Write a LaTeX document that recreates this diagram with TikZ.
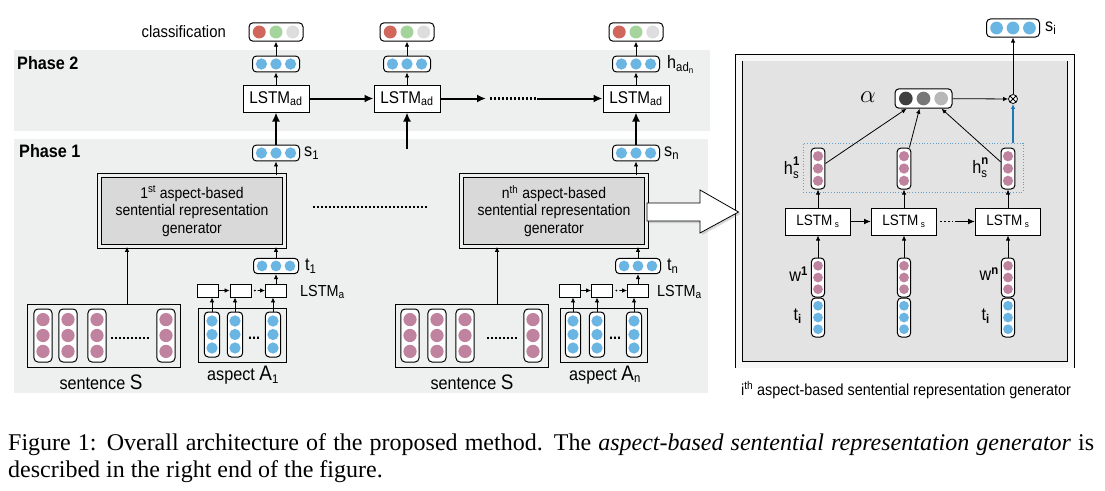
\documentclass[tikz,border=0pt]{standalone}
\usepackage{amsmath}
\usepackage{fontspec}
\setmainfont[FakeStretch=0.9]{Liberation Sans}
\newfontfamily\capfont{Liberation Serif}
\usetikzlibrary{arrows.meta,calc,positioning,shadows}

\definecolor{band}{RGB}{238,239,239}
\definecolor{panelgray}{RGB}{227,227,227}
\definecolor{vblue}{RGB}{107,181,227}
\definecolor{vpink}{RGB}{192,131,159}
\definecolor{vred}{RGB}{209,102,92}
\definecolor{vgreen}{RGB}{164,212,155}
\definecolor{vgray}{RGB}{221,221,221}
\definecolor{adark}{RGB}{63,63,63}
\definecolor{amid}{RGB}{119,119,119}
\definecolor{alight}{RGB}{184,184,184}
\definecolor{attblue}{RGB}{31,120,180}

\newcommand{\fsz}[1]{\fontsize{#1}{#1}\selectfont}

\tikzset{%
    arr/.style = {-{Latex[length=5pt,width=4.5pt]}, line width=0.8pt},
    midarr/.style = {-{Latex[length=7pt,width=6pt]}, line width=1.5pt},
    bigarr/.style = {-{Latex[length=9pt,width=8pt]}, line width=2pt},
    vbox/.style = {draw, line width=1pt, rounded corners=4pt, fill=white, inner sep=0pt},
    dot/.style = {circle, inner sep=0pt, minimum size=#1},
    plainbox/.style = {draw, line width=0.9pt, inner sep=0pt},
    lstm/.style = {draw, line width=1pt, fill=white, inner sep=0pt},
    cell/.style = {draw, line width=0.9pt, fill=white, minimum width=21pt, minimum height=13pt, inner sep=0pt},
    genbox/.style = {draw, line width=0.8pt, double=band, double distance=3pt, fill=black!15,
        minimum width=185pt, minimum height=71pt, align=center, inner sep=0pt,
        font=\fontsize{15.5}{17.5}\selectfont,
        drop shadow={opacity=0.3, shadow xshift=2pt, shadow yshift=-2pt}},
    panelbox/.style = {draw, line width=0.9pt, double=black!3, double distance=6pt, fill=panelgray,
        minimum width=332pt, minimum height=307pt, inner sep=0pt,
        drop shadow={opacity=0.3, shadow xshift=2pt, shadow yshift=-2pt}},
    lab/.style = {inner sep=0pt, font=\fsz{18}},
    phase/.style = {inner sep=0pt, font=\fsz{18}\bfseries},
    dotline/.style = {line width=2.2pt, dash pattern=on 2pt off 2pt},
}

% row of three units: name, position, width, fills
\newcommand{\rowvec}[4]{%
    \node[vbox, minimum width=#3, minimum height=0.34*#3] (#1) at (#2) {};
    \foreach \c [count=\k] in {#4}
        \node[dot=0.24*#3, fill=\c] at ($(#1.center)+({(\k-2)*0.31*#3},0)$) {};
}
% column of three units: name, position, height, fill
\newcommand{\colvec}[4]{%
    \node[vbox, minimum width=0.34*#3, minimum height=#3] (#1) at (#2) {};
    \foreach \k in {-1,0,1}
        \node[dot=0.25*#3, fill=#4] at ($(#1.center)+(0,{\k*0.3*#3})$) {};
}

\begin{document}
\begin{tikzpicture}[x=1pt, y=-1pt]
\useasboundingbox (0,0) rectangle (1105,490);

% phase bands
\fill[band] (14,50) rectangle (710,131);
\fill[band] (14,139) rectangle (708,393);
\node[phase, anchor=west] (ph2) at (17,63) {Phase 2};
\node[phase, anchor=west] (ph1) at (19,151) {Phase 1};

% phase 2
\node[anchor=east, inner sep=0pt, font=\fsz{16.5}] (clslab) at (226,32) {classification};
\rowvec{c1}{276,32}{54}{vred,vgreen,vgray}
\rowvec{c2}{407,32}{54}{vred,vgreen,vgray}
\rowvec{c3}{636,32}{54}{vred,vgreen,vgray}
\rowvec{h1}{276,64}{47}{vblue,vblue,vblue}
\rowvec{h2}{407,64}{47}{vblue,vblue,vblue}
\rowvec{h3}{636,64}{47}{vblue,vblue,vblue}
\node[lab, right=7pt of h3] (h3lab) {h\textsubscript{ad\textsubscript{n}}};
\node[lstm, font=\fsz{17}, minimum width=66pt, minimum height=27pt] (lad1) at (276,98.5) {LSTM\textsubscript{ad}};
\node[lstm, font=\fsz{17}, minimum width=66pt, minimum height=27pt] (lad2) at (407,98.5) {LSTM\textsubscript{ad}};
\node[lstm, font=\fsz{17}, minimum width=66pt, minimum height=27pt] (lad3) at (636,98.5) {LSTM\textsubscript{ad}};
\rowvec{s1}{276,153}{47}{vblue,vblue,vblue}
\rowvec{s3}{636,153}{47}{vblue,vblue,vblue}
\node[lab, right=4pt of s1] (s1lab) {s\textsubscript{1}};
\node[lab, right=4pt of s3] (s3lab) {s\textsubscript{n}};

\draw[arr] (h1) -- (c1);
\draw[arr] (h2) -- (c2);
\draw[arr] (h3) -- (c3);
\draw[arr] (lad1) -- (h1);
\draw[arr] (lad2) -- (h2);
\draw[arr] (lad3) -- (h3);
\draw[bigarr] (s1) -- (lad1);
\draw[bigarr] (s3) -- (lad3);
\coordinate (up2) at (407,149);
\draw[bigarr] (up2) -- (lad2);
\draw[bigarr] (lad1) -- (lad2);
\coordinate (dd1) at (486,98.5);
\coordinate (dd2) at (490,98.5);
\coordinate (dd3) at (537,98.5);
\draw[bigarr] (lad2) -- (dd1);
\draw[dotline] (dd2) -- (dd3);
\draw[bigarr] (dd3) -- (lad3);

% phase 1, first aspect
\node[genbox] (gen1) at (192,211) {1\textsuperscript{st} aspect-based\\sentential representation\\generator};
\draw[arr] (gen1.north -| s1) -- (s1);
\rowvec{t1}{276,266}{45}{vblue,vblue,vblue}
\node[lab, right=6pt of t1] (t1lab) {t\textsubscript{1}};
\draw[arr] (t1) -- (t1 |- gen1.south);
\node[cell] (la11) at (207.5,290.5) {};
\node[cell] (la12) at (240.5,290.5) {};
\node[cell] (la13) at (276,290.5) {};
\node[anchor=west, inner sep=0pt, font=\fsz{16}] (la1lab) at (300,292) {LSTM\textsubscript{a}};
\draw[arr] (la11) -- (la12);
\fill ($(la12.east)!0.25!(la13.west)$) circle (1);
\draw[arr] ($(la12.east)!0.45!(la13.west)$) -- (la13);
\draw[arr] (la13) -- (t1);

\node[plainbox, minimum width=88pt, minimum height=54pt] (asp1) at (242,335) {};
\colvec{a11}{212,334.5}{45}{vblue}
\colvec{a12}{235,334.5}{45}{vblue}
\colvec{a13}{273,334.5}{45}{vblue}
\node[anchor=base, inner sep=0pt, font=\fsz{16}\bfseries] (adots1) at (254,339) {...};
\draw[arr] (a11) -- (a11 |- la11.south);
\draw[arr] (a12) -- (a12 |- la12.south);
\draw[arr] (a13) -- (a13 |- la13.south);
\node[lab] (asp1lab) at (243,375) {aspect {\fsz{21}A}\textsubscript{1}};

\node[plainbox, minimum width=153pt, minimum height=63pt] (sent1) at (103.5,335.5) {};
\colvec{w11}{43,335.5}{53}{vpink}
\colvec{w12}{68,335.5}{53}{vpink}
\colvec{w13}{97,335.5}{53}{vpink}
\colvec{w14}{166,335.5}{53}{vpink}
\draw[dotline, line width=2pt] (111,338) -- (150,338);
\node[lab] (sent1lab) at (101,382) {sentence {\fsz{21}S}};
\coordinate (sa1) at ($(sent1.north)+(23.5,0)$);
\draw[arr] (sa1) -- (sa1 |- gen1.south);

% phase 1, n-th aspect
\node[genbox] (gen2) at (554,211) {n\textsuperscript{th} aspect-based\\sentential representation\\generator};
\draw[dotline] ($(gen1.east)+(28,-4)$) -- ($(gen2.west)+(-33,-4)$);
\draw[arr] (gen2.north -| s3) -- (s3);
\rowvec{t2}{638,266}{45}{vblue,vblue,vblue}
\node[lab, right=6pt of t2] (t2lab) {t\textsubscript{n}};
\draw[arr] (t2) -- (t2 |- gen2.south);
\node[cell] (la21) at (569.5,290.5) {};
\node[cell] (la22) at (602,290.5) {};
\node[cell] (la23) at (638,290.5) {};
\node[anchor=west, inner sep=0pt, font=\fsz{16}] (la2lab) at (657,292) {LSTM\textsubscript{a}};
\draw[arr] (la21) -- (la22);
\fill ($(la22.east)!0.25!(la23.west)$) circle (1);
\draw[arr] ($(la22.east)!0.45!(la23.west)$) -- (la23);
\draw[arr] (la23) -- (t2);

\node[plainbox, minimum width=87pt, minimum height=54pt] (asp2) at (603.5,335) {};
\colvec{a21}{573,334.5}{45}{vblue}
\colvec{a22}{597,334.5}{45}{vblue}
\colvec{a23}{634,334.5}{45}{vblue}
\node[anchor=base, inner sep=0pt, font=\fsz{16}\bfseries] (adots2) at (615,339) {...};
\draw[arr] (a21) -- (a21 |- la21.south);
\draw[arr] (a22) -- (a22 |- la22.south);
\draw[arr] (a23) -- (a23 |- la23.south);
\node[lab] (asp2lab) at (605,375) {aspect {\fsz{21}A}\textsubscript{n}};

\node[plainbox, minimum width=153pt, minimum height=63pt] (sent2) at (471.5,335.5) {};
\colvec{w21}{410,335.5}{53}{vpink}
\colvec{w22}{437,335.5}{53}{vpink}
\colvec{w23}{465,335.5}{53}{vpink}
\colvec{w24}{533,335.5}{53}{vpink}
\draw[dotline, line width=2pt] (487,338) -- (517,338);
\node[lab] (sent2lab) at (472,382) {sentence {\fsz{21}S}};
\coordinate (sa2) at ($(sent2.north)+(25.5,0)$);
\draw[arr] (sa2) -- (sa2 |- gen2.south);

% i-th generator, detailed
\node[panelbox] (panel) at (905,211) {};
\node[inner sep=0pt, font=\fsz{16}] (panellab) at (906,390) {i\textsuperscript{th} aspect-based sentential representation generator};
\draw[line width=0.8pt, fill=white, drop shadow={opacity=0.3, shadow xshift=2pt, shadow yshift=-2pt}]
    ($(gen2.east)+(0,-8)$) -- (700,203) -- (700,190) -- (panel.west |- 0,212) -- (700,233) -- (700,221) -- ($(gen2.east)+(0,10)$) -- cycle;

\rowvec{si}{1013,28}{53}{vblue,vblue,vblue}
\node[lab, right=5pt of si] (silab) {s\textsubscript{i}};
\node[circle, draw, line width=0.8pt, fill=white, minimum size=9pt, inner sep=0pt,
    path picture={\draw[line width=0.8pt] (path picture bounding box.north west) -- (path picture bounding box.south east)
    (path picture bounding box.north east) -- (path picture bounding box.south west);}] (mul) at (1013,99) {};
\rowvec{att}{923.5,98.5}{57}{adark,amid,alight}
\node[inner sep=0pt, font=\fsz{24}] (alab) at (868,97) {$\alpha$};
\draw[arr] (att) -- (mul);
\draw[arr] (mul) -- (si);

\node[draw=attblue!70, dotted, line width=0.8pt, minimum width=220pt, minimum height=49pt, inner sep=0pt] (hgroup) at (913,167.5) {};
\draw[arr, attblue, line width=1.1pt] (hgroup.north -| mul) -- (mul);
\colvec{hs1}{818,168.5}{41}{vpink}
\colvec{hs2}{904,168.5}{41}{vpink}
\colvec{hs3}{1008,168.5}{41}{vpink}
\node[lab, anchor=east] (hs1lab) at (800,168) {$\text{h}^{\textbf{1}}_{\text{s}}$};
\node[lab, anchor=east] (hs3lab) at (989,168) {$\text{h}^{\textbf{n}}_{\text{s}}$};
\draw[arr] (hs1) -- ($(att.south)+(-17,0)$);
\draw[arr] (hs2) -- ($(att.south)+(-4,0)$);
\draw[arr] (hs3) -- ($(att.south)+(18,0)$);

\node[lstm, font=\fsz{15}, minimum width=65pt, minimum height=27pt] (ls1) at (818,221.5) {LSTM\,{\fsz{13}\textsubscript{s}}};
\node[lstm, font=\fsz{15}, minimum width=65pt, minimum height=27pt] (ls2) at (904,221.5) {LSTM\,{\fsz{13}\textsubscript{s}}};
\node[lstm, font=\fsz{15}, minimum width=65pt, minimum height=27pt] (ls3) at (1008,221.5) {LSTM\,{\fsz{13}\textsubscript{s}}};
\draw[midarr] (ls1) -- (ls2);
\draw[dotline, line width=1.8pt] ($(ls2.east)+(3,0)$) -- ($(ls2.east)+(16,0)$);
\draw[midarr] ($(ls2.east)+(18,0)$) -- (ls3);
\draw[arr] (ls1) -- (hs1);
\draw[arr] (ls2) -- (hs2);
\draw[arr] (ls3) -- (hs3);

\colvec{wd1}{818,277.5}{39}{vpink}
\colvec{wd2}{904,277.5}{39}{vpink}
\colvec{wd3}{1008,277.5}{39}{vpink}
\colvec{ti1}{818,317.5}{39}{vblue}
\colvec{ti2}{904,317.5}{39}{vblue}
\colvec{ti3}{1008,317.5}{39}{vblue}
\draw[arr] (wd1) -- (ls1);
\draw[arr] (wd2) -- (ls2);
\draw[arr] (wd3) -- (ls3);
\node[lab, anchor=east] (wd1lab) at (808,274) {$\text{w}^{\textbf{1}}$};
\node[lab, anchor=east] (wd3lab) at (999,274) {$\text{w}^{\textbf{n}}$};
\node[lab, anchor=east] (ti1lab) at (802,316) {$\text{t}_{\textbf{i}}$};
\node[lab, anchor=east] (ti3lab) at (990,316) {$\text{t}_{\textbf{i}}$};

% caption
\node[anchor=north west, inner sep=0pt, text width=1086pt, align=justify,
    font=\capfont\fontsize{24}{27}\selectfont] (cap) at (8,433)
    {Figure 1: Overall architecture of the proposed method. The \textit{aspect-based sentential representation generator} is\linebreak described in the right end of the figure.};
\end{tikzpicture}
\end{document}
